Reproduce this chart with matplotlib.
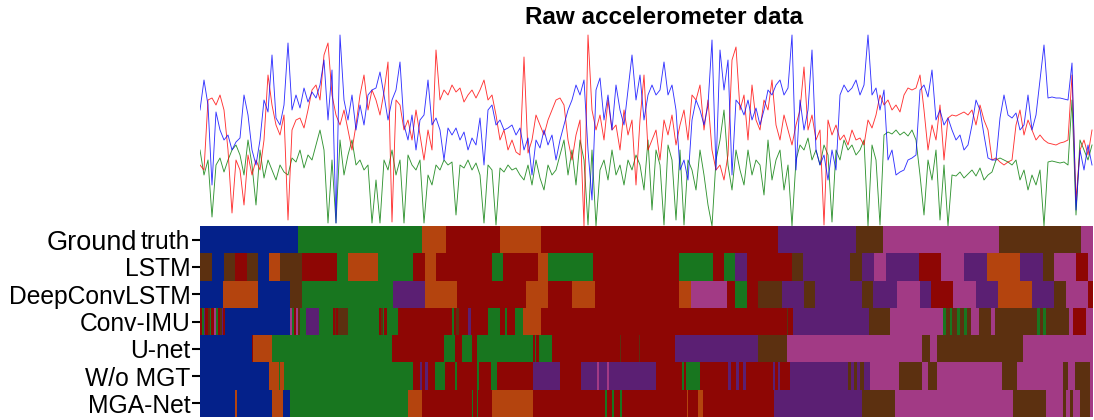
import numpy as np
import matplotlib
matplotlib.use("Agg")
import matplotlib.pyplot as plt
from matplotlib.colors import ListedColormap
from matplotlib.transforms import blended_transform_factory

plt.rcParams['font.family'] = ['Liberation Sans', 'DejaVu Sans']

# ---------------- raw accelerometer data (one sample every 4 time units) ----------------
SAMPLE_STEP = 4
acc_blue = [116, 146, 121, 41, 114, 96, 86, 91, 76, 84,
            88, 131, 111, 76, 61, 86, 126, 114, 171, 108,
            101, 121, 183, 116, 131, 118, 138, 124, 134, 128,
            141, 166, 106, 156, 3, 191, 126, 106, 131, 96,
            121, 101, 131, 136, 138, 154, 131, 106, 126, 136,
            164, 101, 86, 111, 76, 106, 111, 146, 101, 108,
            96, 66, 98, 91, 98, 86, 94, 76, 88, 81,
            108, 61, 116, 121, 101, 106, 96, 98, 101, 91,
            98, 76, 88, 51, 86, 78, 96, 81, 91, 66,
            86, 101, 116, 126, 141, 131, 146, 76, 26, 136,
            148, 106, 131, 96, 141, 116, 101, 136, 171, 126,
            151, 106, 131, 141, 131, 136, 164, 131, 141, 116,
            56, 66, 46, 106, 126, 116, 101, 121, 186, 56,
            176, 136, 166, 51, 126, 121, 111, 126, 106, 118,
            101, 116, 136, 131, 141, 146, 131, 138, 191, 56,
            126, 96, 116, 176, 76, 61, 71, 46, 76, 56,
            131, 141, 134, 138, 146, 131, 141, 191, 131, 138,
            116, 136, 66, 76, 51, 54, 56, 66, 68, 71,
            136, 141, 129, 156, 106, 116, 101, 108, 96, 86,
            91, 76, 81, 101, 126, 116, 91, 68, 66, 66,
            108, 131, 111, 108, 113, 96, 101, 131, 96, 111,
            146, 181, 128, 129, 128, 128, 127, 126, 163, 16,
            76, 56, 81, 61]
acc_red = [61, 56, 126, 128, 121, 131, 116, 76, 13, 66,
           56, 21, 71, 51, 66, 56, 86, 151, 121, 101,
           91, 111, 6, 96, 106, 108, 98, 116, 136, 141,
           126, 171, 183, 131, 111, 101, 116, 96, 76, 101,
           131, 151, 116, 136, 126, 111, 134, 164, 4, 126,
           121, 96, 106, 86, 116, 91, 66, 96, 76, 176,
           126, 136, 131, 141, 134, 138, 124, 131, 136, 128,
           136, 146, 126, 131, 111, 86, 96, 76, 86, 74,
           71, 169, 73, 86, 111, 101, 91, 106, 116, 126,
           128, 121, 86, 66, 91, 106, 0, 191, 116, 96,
           111, 86, 126, 96, 101, 76, 116, 91, 106, 41,
           106, 151, 76, 86, 96, 66, 106, 91, 111, 81,
           101, 116, 86, 131, 126, 141, 96, 126, 76, 56,
           61, 46, 71, 166, 179, 116, 131, 86, 141, 106,
           96, 126, 116, 146, 101, 86, 111, 96, 81, 101,
           116, 159, 96, 111, 86, 96, 1, 106, 91, 101,
           86, 91, 81, 96, 86, 88, 81, 106, 98, 111,
           131, 121, 126, 116, 121, 114, 131, 138, 136, 138,
           151, 116, 76, 101, 86, 121, 66, 108, 111, 110,
           112, 114, 111, 116, 101, 121, 106, 96, 66, 68,
           64, 61, 64, 66, 101, 116, 91, 106, 96, 86,
           91, 86, 83, 82, 81, 83, 84, 86, 151, 26,
           76, 86, 71, 96]
acc_green = [76, 51, 66, 9, 61, 68, 54, 66, 76, 81,
             71, 51, 86, 61, 21, 76, 48, 66, 56, 46,
             61, 54, 51, 68, 64, 76, 58, 71, 66, 81,
             96, 76, 3, 66, 3, 86, 51, 71, 86, 61,
             66, 56, 61, 3, 46, 3, 66, 56, 76, 51,
             66, 3, 71, 61, 56, 66, 3, 51, 41, 61,
             56, 66, 61, 64, 11, 61, 58, 66, 56, 63,
             51, 3, 61, 56, 1, 58, 54, 61, 56, 58,
             51, 46, 61, 41, 66, 48, 36, 61, 51, 56,
             71, 86, 51, 76, 41, 86, 66, 1, 76, 0,
             56, 66, 46, 76, 51, 61, 41, 66, 56, 71,
             61, 36, 86, 16, 76, 61, 1, 81, 66, 6,
             76, 1, 66, 56, 36, 76, 51, 21, 0, 66,
             86, 116, 61, 36, 76, 56, 41, 76, 51, 66,
             61, 31, 86, 46, 66, 76, 36, 61, 0, 66,
             81, 76, 88, 66, 76, 61, 81, 71, 4, 76,
             66, 86, 76, 81, 71, 76, 86, 0, 81, 66,
             1, 91, 94, 92, 96, 91, 94, 90, 96, 86,
             51, 11, 66, 46, 76, 6, 61, 0, 51, 50,
             54, 48, 52, 56, 50, 58, 46, 51, 54, 66,
             68, 66, 64, 61, 66, 46, 56, 36, 51, 41,
             56, 0, 64, 65, 64, 63, 64, 61, 126, 11,
             86, 76, 66, 81]

# ---------------- segmentation results: (segment end, activity) ----------------
SEQ_LEN = 893
activities = ['B', 'G', 'O', 'R', 'P', 'Br', 'Pk']
activity_colors = ['#04218A', '#18761F', '#B4440E', '#8E0604', '#5B1F73', '#5C3010', '#A23A85']
row_labels = ['Ground truth', 'LSTM', 'DeepConvLSTM', 'Conv-IMU', 'U-net', 'W/o MGT', 'MGA-Net']

seg_gt = [(98, 'B'), (222, 'G'), (246, 'O'), (300, 'R'), (341, 'O'), (578, 'R'), (656, 'P'),
          (683, 'Br'), (799, 'Pk'), (881, 'Br'), (893, 'Pk')]
seg_lstm = [(12, 'Br'), (24, 'B'), (35, 'Br'), (47, 'R'), (58, 'Br'), (69, 'B'), (80, 'O'), (102, 'Br'),
            (137, 'R'), (148, 'G'), (178, 'O'), (213, 'G'), (225, 'R'), (236, 'O'), (292, 'R'), (303, 'G'),
            (338, 'R'), (348, 'O'), (393, 'G'), (479, 'R'), (513, 'G'), (524, 'R'), (535, 'G'), (547, 'P'),
            (592, 'R'), (603, 'Br'), (650, 'P'), (662, 'Br'), (674, 'P'), (686, 'Pk'), (719, 'P'),
            (741, 'R'), (764, 'Pk'), (787, 'P'), (820, 'O'), (843, 'P'), (854, 'Br'), (876, 'Pk'),
            (888, 'R'), (893, 'Pk')]
seg_deepconvlstm = [(23, 'B'), (58, 'O'), (90, 'B'), (102, 'Br'), (193, 'G'), (225, 'P'), (257, 'O'),
                    (326, 'R'), (348, 'O'), (372, 'R'), (395, 'O'), (479, 'R'), (491, 'O'), (527, 'Pk'),
                    (535, 'R'), (547, 'G'), (558, 'R'), (582, 'Br'), (604, 'P'), (615, 'Br'), (662, 'P'),
                    (673, 'Br'), (697, 'P'), (720, 'Pk'), (731, 'P'), (753, 'R'), (776, 'Pk'), (798, 'P'),
                    (832, 'O'), (854, 'P'), (866, 'Br'), (888, 'Pk'), (893, 'R')]
seg_convimu = [(2, 'R'), (4, 'G'), (5, 'P'), (8, 'R'), (10, 'Br'), (11, 'G'), (14, 'R'), (16, 'Pk'),
               (18, 'G'), (20, 'R'), (22, 'Br'), (23, 'P'), (25, 'R'), (90, 'B'), (92, 'Pk'), (94, 'G'),
               (96, 'R'), (98, 'Pk'), (100, 'Br'), (102, 'G'), (106, 'G'), (119, 'P'), (133, 'G'),
               (135, 'R'), (136, 'Br'), (138, 'R'), (148, 'Br'), (179, 'G'), (181, 'R'), (183, 'Br'),
               (184, 'G'), (187, 'R'), (198, 'G'), (252, 'R'), (254, 'G'), (256, 'R'), (259, 'Br'),
               (268, 'R'), (271, 'P'), (288, 'R'), (300, 'G'), (305, 'R'), (307, 'G'), (315, 'R'),
               (323, 'G'), (341, 'O'), (587, 'R'), (588, 'Br'), (593, 'R'), (669, 'P'), (690, 'Br'),
               (743, 'Pk'), (746, 'G'), (750, 'Br'), (752, 'G'), (757, 'Br'), (760, 'G'), (764, 'Br'),
               (767, 'G'), (771, 'Br'), (779, 'Pk'), (791, 'Br'), (795, 'Pk'), (837, 'Br'), (840, 'G'),
               (843, 'Br'), (846, 'G'), (849, 'Br'), (869, 'Br'), (873, 'Pk'), (886, 'R'), (893, 'Pk')]
seg_unet = [(52, 'B'), (53, 'R'), (72, 'O'), (192, 'G'), (244, 'R'), (255, 'G'), (262, 'R'), (272, 'G'),
            (277, 'R'), (333, 'G'), (335, 'R'), (336, 'G'), (339, 'R'), (352, 'G'), (420, 'R'),
            (421, 'Br'), (439, 'R'), (440, 'Br'), (475, 'R'), (558, 'P'), (587, 'Br'), (722, 'Pk'),
            (730, 'Br'), (737, 'Pk'), (823, 'Br'), (893, 'Pk')]
seg_womgt = [(69, 'B'), (79, 'O'), (80, 'G'), (84, 'O'), (213, 'G'), (220, 'R'), (222, 'P'), (225, 'R'),
             (228, 'P'), (235, 'R'), (245, 'G'), (255, 'R'), (257, 'G'), (277, 'R'), (279, 'G'),
             (291, 'R'), (297, 'G'), (333, 'R'), (360, 'P'), (381, 'R'), (397, 'P'), (399, 'Pk'),
             (407, 'P'), (409, 'Pk'), (456, 'P'), (482, 'R'), (484, 'G'), (486, 'R'), (500, 'G'),
             (528, 'R'), (531, 'P'), (536, 'R'), (539, 'P'), (543, 'R'), (546, 'P'), (573, 'R'),
             (575, 'P'), (578, 'R'), (580, 'P'), (590, 'R'), (648, 'P'), (651, 'Br'), (654, 'P'),
             (657, 'Br'), (660, 'P'), (664, 'Br'), (670, 'P'), (699, 'Pk'), (722, 'Br'), (728, 'Pk'),
             (737, 'Br'), (802, 'Pk'), (817, 'Br'), (863, 'Pk'), (868, 'Br'), (875, 'Pk'), (890, 'Br'),
             (893, 'Pk')]
seg_mganet = [(35, 'B'), (37, 'O'), (72, 'B'), (83, 'O'), (90, 'B'), (208, 'G'), (222, 'O'), (272, 'R'),
              (273, 'G'), (277, 'R'), (278, 'G'), (292, 'R'), (333, 'O'), (405, 'R'), (407, 'G'),
              (412, 'R'), (414, 'G'), (420, 'R'), (422, 'G'), (487, 'R'), (488, 'O'), (498, 'R'),
              (503, 'O'), (574, 'R'), (662, 'P'), (695, 'Br'), (813, 'Pk'), (846, 'Br'), (863, 'Pk'),
              (866, 'Br'), (870, 'Pk'), (873, 'Br'), (880, 'Pk'), (890, 'Br'), (893, 'Pk')]
segmentations = [seg_gt, seg_lstm, seg_deepconvlstm, seg_convimu, seg_unet, seg_womgt, seg_mganet]

# ---------------- figure ----------------
W, H = 1094, 420
fig = plt.figure(figsize=(W / 100, H / 100), dpi=100)

def rect(x0, y0, x1, y1):
    return [x0 / W, 1 - y1 / H, (x1 - x0) / W, (y1 - y0) / H]

ax_sig = fig.add_axes(rect(200, 30, 1093, 226))
t = np.arange(len(acc_blue)) * SAMPLE_STEP
ax_sig.plot(t, acc_green, color='#007a00', lw=0.65, alpha=0.8)
ax_sig.plot(t, acc_red, color='#ff0000', lw=0.65, alpha=0.8)
ax_sig.plot(t, acc_blue, color='#0000ff', lw=0.65, alpha=0.8)
ax_sig.set_xlim(0, SEQ_LEN)
ax_sig.set_ylim(0, 196)
ax_sig.axis('off')

fig.text(664 / W, 1 - 17 / H, 'Raw accelerometer data', ha='center', va='center',
         fontsize=17.5, fontweight='bold')

# label matrix
labels = np.zeros((len(segmentations), SEQ_LEN), dtype=int)
for r, segs in enumerate(segmentations):
    start = 0
    for end, act in segs:
        labels[r, start:end] = activities.index(act)
        start = end

ax_seg = fig.add_axes(rect(200, 226, 1093, 417))
ax_seg.imshow(labels, cmap=ListedColormap(activity_colors), vmin=-0.5, vmax=len(activities) - 0.5,
              aspect='auto', interpolation='nearest', extent=(0, SEQ_LEN, len(row_labels), 0))
ax_seg.set_xticks([])
ax_seg.set_yticks(np.arange(len(row_labels)) + 0.5)
tick_texts = ['truth'] + row_labels[1:]
ax_seg.set_yticklabels(tick_texts)
ax_seg.tick_params(axis='y', length=6, width=1.5, pad=1, labelsize=17.7)
for s in ax_seg.spines.values():
    s.set_visible(False)

fig.canvas.draw()
renderer = fig.canvas.get_renderer()
lbl0 = ax_seg.get_yticklabels()[0]
bb = lbl0.get_window_extent(renderer)
trans = blended_transform_factory(fig.transFigure, ax_seg.transData)
fig.text((bb.x0 - 4) / W, 0.5, row_labels[0].split(' ')[0], transform=trans,
         ha='right', va='center_baseline', fontsize=19.5)

fig.savefig('out.png', dpi=100)
